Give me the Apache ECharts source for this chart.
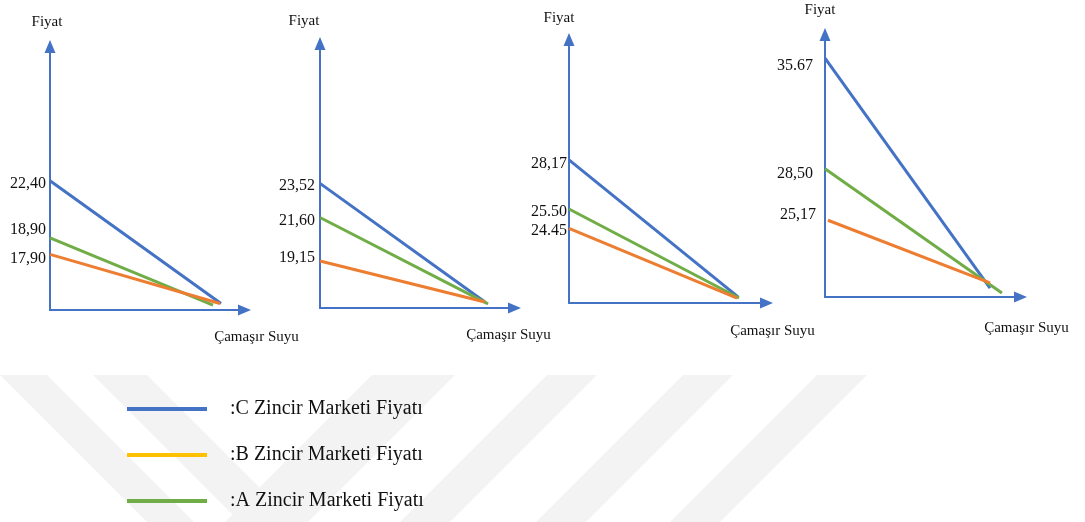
<!DOCTYPE html>
<html><head><meta charset="utf-8">
<script src="https://cdn.jsdelivr.net/npm/echarts@6/dist/echarts.min.js"></script>
<style>html,body{margin:0;padding:0;background:#fff}#c{width:1085px;height:522px}</style>
</head><body><div id="c"></div>
<script>
// ---- data (order inside each panel: C, B, A) ----
const markets = ['C Zincir Marketi Fiyatı', 'B Zincir Marketi Fiyatı', 'A Zincir Marketi Fiyatı'];
const startPrices = [[22.40, 17.90, 18.90], [23.52, 19.15, 21.60], [28.17, 24.45, 25.50], [35.67, 25.17, 28.50]];
const priceLabels = [['22,40', '17,90', '18,90'], ['23,52', '19,15', '21,60'], ['28,17', '24.45', '25.50'], ['35.67', '25,17', '28,50']];
const startQty = [[0, 0, 0], [0, 0, 0], [0, 0, 0], [0, 1.5, 0]];
const endQty = [[87.9, 87.4, 83.8], [84.8, 84.8, 86.4], [85.6, 85.1, 86.1], [84.4, 84.4, 90.5]];
const endPrices = [[14.9, 14.9, 14.8], [16.84, 16.84, 16.73], [20.73, 20.67, 20.67], [20.78, 21.11, 20.46]];
const yMin = [14.5, 16.5, 20.4, 20.2];
const yMax = [30.6, 31.4, 34.7, 37.2];
const xMin = 0, xMax = 100;
const yAxisName = 'Fiyat';
const xAxisName = 'Çamaşır Suyu';

// ---- styling / layout ----
const seriesColors = ['#4472C4', '#ED7D31', '#70AD47'];
const legendColors = ['#4472C4', '#FFC000', '#70AD47'];
const axisColor = '#4472C4';
const font = '"Liberation Serif", "Times New Roman", serif';
const grids = [
  {left: 50, top: 46.5, width: 194.5, height: 263.5},
  {left: 320, top: 43.5, width: 194.5, height: 264.5},
  {left: 569, top: 39.5, width: 197.5, height: 263.5},
  {left: 825, top: 34.5, width: 195.5, height: 262.5}
];
const labelDist = [4, 5, 2, 12];
// vertical nudges of the price labels (px), order C, B, A
const labelNudge = [[3, 4, -8], [2, -3, 3], [4, 2, 3], [8, -5, 5]];
const yNameGap = [17, 15, 14, 17];
const yNameShift = [3, 16, 10, 5];
const xNameGap = [12, -6, 6, 6];
const xNamePad = [20, 20, 21, 24];
const drawOrder = [0, 2, 1]; // C, A, B (B on top)

const xAxes = [], yAxes = [], series = [];
grids.forEach((g, p) => {
  xAxes.push({
    gridIndex: p, type: 'value', min: xMin, max: xMax,
    axisLine: {show: true, onZero: false, symbol: ['none', 'triangle'], symbolSize: [11, 13],
      lineStyle: {color: axisColor, width: 2}},
    axisTick: {show: false}, axisLabel: {show: false}, splitLine: {show: false},
    name: xAxisName, nameLocation: 'end', nameGap: xNameGap[p],
    nameTextStyle: {fontFamily: font, fontSize: 15, color: '#111', align: 'center', verticalAlign: 'top',
      padding: [xNamePad[p], 0, 0, 0]}
  });
  yAxes.push({
    gridIndex: p, type: 'value', min: yMin[p], max: yMax[p],
    axisLine: {show: true, onZero: false, symbol: ['none', 'triangle'], symbolSize: [11, 13],
      lineStyle: {color: axisColor, width: 2}},
    axisTick: {show: false}, axisLabel: {show: false}, splitLine: {show: false},
    name: yAxisName, nameLocation: 'end', nameGap: yNameGap[p],
    nameTextStyle: {fontFamily: font, fontSize: 15, color: '#111', align: 'center',
      padding: [0, 2 * yNameShift[p], 0, 0]}
  });
  drawOrder.forEach(m => {
    series.push({
      type: 'line', name: markets[m], xAxisIndex: p, yAxisIndex: p,
      color: seriesColors[m], clip: false,
      symbol: 'circle', symbolSize: 0.01,
      lineStyle: {width: 3, color: seriesColors[m]},
      itemStyle: {color: seriesColors[m]},
      emphasis: {disabled: true},
      data: [
        {value: [startQty[p][m], startPrices[p][m]],
         label: {show: true, position: 'left', distance: labelDist[p], offset: [0, labelNudge[p][m]],
           formatter: priceLabels[p][m], fontFamily: font, fontSize: 16, color: '#111'}},
        {value: [endQty[p][m], endPrices[p][m]], label: {show: false}}
      ]
    });
  });
});

// faint background watermark bands
const bandTop = 375, bandBottom = 522, dy = bandBottom - bandTop;
const slashBands = [[372, 455], [547, 597], [683, 733], [817, 867]];
const backBands = [[0, 47], [93, 147]];
const wmEls = [];
slashBands.forEach(b => wmEls.push({type: 'polygon', silent: true, z: -10,
  shape: {points: [[b[0], bandTop], [b[1], bandTop], [b[1] - dy, bandBottom], [b[0] - dy, bandBottom]]},
  style: {fill: '#f3f3f3'}}));
backBands.forEach(b => wmEls.push({type: 'polygon', silent: true, z: -10,
  shape: {points: [[b[0], bandTop], [b[1], bandTop], [b[1] + dy, bandBottom], [b[0] + dy, bandBottom]]},
  style: {fill: '#f3f3f3'}}));

const chart = echarts.init(document.getElementById('c'), null, {renderer: 'canvas'});
chart.setOption({
  animation: false,
  backgroundColor: '#ffffff',
  grid: grids,
  xAxis: xAxes,
  yAxis: yAxes,
  series: series,
  graphic: {elements: wmEls},
  legend: {
    orient: 'vertical', left: 127, top: 399, padding: 0, itemGap: 26,
    itemWidth: 80, itemHeight: 4, icon: 'rect',
    itemStyle: {borderWidth: 0},
    textStyle: {fontFamily: font, fontSize: 20, color: '#111', padding: [0, 0, 0, 18]},
    formatter: n => ':' + n,
    selectedMode: false,
    data: markets.map((m, i) => ({name: m, itemStyle: {color: legendColors[i], borderWidth: 0}}))
  }
});
</script>
</body></html>
